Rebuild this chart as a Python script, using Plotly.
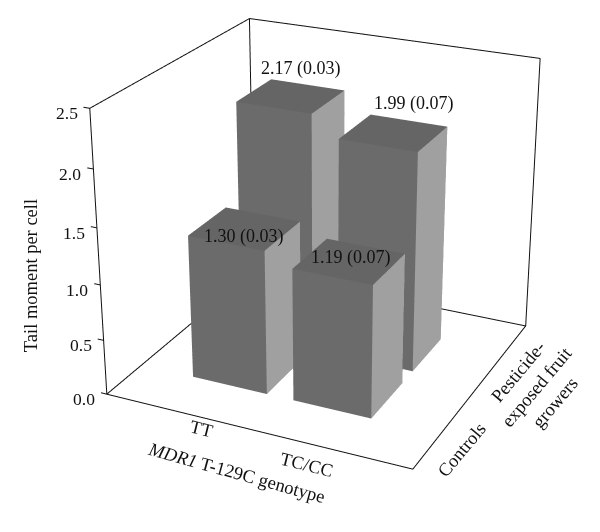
import plotly.graph_objects as go

genotypes = ['TT', 'TC/CC']
groups = ['Controls', 'Pesticide-<br>exposed fruit<br>growers']
control_values = [1.30, 1.19]
grower_values = [2.17, 1.99]
control_errors = [0.03, 0.07]
grower_errors = [0.03, 0.07]
z_ticks = [0.0, 0.5, 1.0, 1.5, 2.0, 2.5]

FONT = 'Liberation Serif'
# box drawn around the bars
x_box = [-0.9, 2.0]
y_box = [-1.015, 2.015]
z_box = [0, 2.5]
half_w = 0.37
front_color = '#6b6b6b'
top_color = '#656565'
side_color = '#a0a0a0'

# plotly has a fixed 45 degree fov, so the scene is drawn big and far away to
# flatten the perspective, then the page only shows the middle part of it
size = 1385
left = -368
top = -467
# axis ranges are a bit wider than the box or the lines on it get clipped
pad = 0.03


def widen(r):
    d = (r[1] - r[0]) * pad
    return [r[0] - d, r[1] + d]


def bar(i, j, value):
    x0, x1 = i - half_w, i + half_w
    y0, y1 = j - half_w, j + half_w
    xs = [x0, x1, x1, x0, x0, x1, x1, x0]
    ys = [y0, y0, y1, y1, y0, y0, y1, y1]
    zs = [0, 0, 0, 0, value, value, value, value]
    tri_i = [0, 0, 1, 1, 4, 4, 3, 3, 0, 0, 0, 0]
    tri_j = [1, 5, 2, 6, 5, 6, 2, 6, 3, 7, 1, 2]
    tri_k = [5, 4, 6, 5, 6, 7, 6, 7, 7, 4, 2, 3]
    colors = [front_color] * 2 + [side_color] * 2 + [top_color] * 2 + [front_color] * 6
    return go.Mesh3d(x=xs, y=ys, z=zs, i=tri_i, j=tri_j, k=tri_k, facecolor=colors,
                     flatshading=True, hoverinfo='skip',
                     lighting=dict(ambient=1, diffuse=0, specular=0, fresnel=0))


fig = go.Figure()
for i in range(len(genotypes)):
    fig.add_trace(bar(i, 0, control_values[i]))
    fig.add_trace(bar(i, 1, grower_values[i]))

# frame of the box
xa, xb = x_box
ya, yb = y_box
za, zb = z_box
frame_x = [xa, xb, xb, xa, xa, None, xa, xa, xa, xa, None, xa, xb, xb]
frame_y = [ya, ya, yb, yb, ya, None, ya, ya, yb, yb, None, yb, yb, yb]
frame_z = [za, za, za, za, za, None, za, zb, zb, za, None, zb, zb, za]
for t in z_ticks:
    frame_x += [None, xa - 0.06, xa]
    frame_y += [None, ya, ya]
    frame_z += [None, t, t]
fig.add_trace(go.Scatter3d(x=frame_x, y=frame_y, z=frame_z, mode='lines', hoverinfo='skip',
                           line=dict(color='#111111', width=2)))


def label(text, x, y, z, dx=0, dy=0, angle=0, font_size=18.5, **kw):
    return dict(text=text, x=x, y=y, z=z, xshift=dx, yshift=dy, textangle=angle, showarrow=False,
                font=dict(family=FONT, size=font_size, color='#111111'), **kw)


notes = []
for t in z_ticks:
    notes.append(label('%.1f' % t, xa, ya, t, dx=-10, dy=-5, font_size=17.5, xanchor='right'))
notes.append(label('Tail moment per cell', xa, ya, 1.25, dx=-68, dy=-19, angle=-90))

notes.append(label(genotypes[0], 0, ya, 0, dx=5, dy=-13, angle=14))
notes.append(label(genotypes[1], 1, ya, 0, dx=5, dy=-23, angle=14))
notes.append(label('<i>MDR1</i> T-129C genotype', 0.5, ya, 0, dx=-12, dy=-44, angle=15.5))

notes.append(label(groups[0], xb, 0, 0, dx=7, dy=-34, angle=-50))
notes.append(label(groups[1], xb, 1, 0, dx=45, dy=-18, angle=-50))

control_dx = [-1, 2]
control_dy = [-8, 4]
grower_dx = [10, 20]
grower_dy = [28, 29]
for i in range(len(genotypes)):
    notes.append(label('%.2f (%.2f)' % (control_values[i], control_errors[i]), i, 0, control_values[i],
                       dx=control_dx[i], dy=control_dy[i], font_size=18))
    notes.append(label('%.2f (%.2f)' % (grower_values[i], grower_errors[i]), i, 1, grower_values[i],
                       dx=grower_dx[i], dy=grower_dy[i], font_size=18))

hidden = dict(visible=False)
grow = 1 + 2 * pad
fig.update_layout(
    width=size, height=size, margin=dict(l=0, r=0, t=0, b=0), showlegend=False,
    paper_bgcolor='white',
    scene=dict(
        xaxis=dict(hidden, range=widen(x_box)),
        yaxis=dict(hidden, range=widen(y_box)),
        zaxis=dict(hidden, range=widen(z_box)),
        aspectmode='manual',
        aspectratio=dict(x=1.092 * grow, y=1.059 * grow, z=grow),
        domain=dict(x=[0, 1], y=[0, 1]),
        camera=dict(eye=dict(x=2.160, y=-4.604, z=2.222), center=dict(x=0, y=0, z=0), up=dict(x=0, y=0, z=1)),
        annotations=notes,
    ),
)

post = ("document.body.style.margin='0';document.body.style.overflow='hidden';"
        "var g=document.getElementsByClassName('plotly-graph-div')[0];"
        "g.style.position='absolute';g.style.left='%dpx';g.style.top='%dpx';" % (left, top))
fig.write_html('out.html', post_script=post, config=dict(displayModeBar=False))
